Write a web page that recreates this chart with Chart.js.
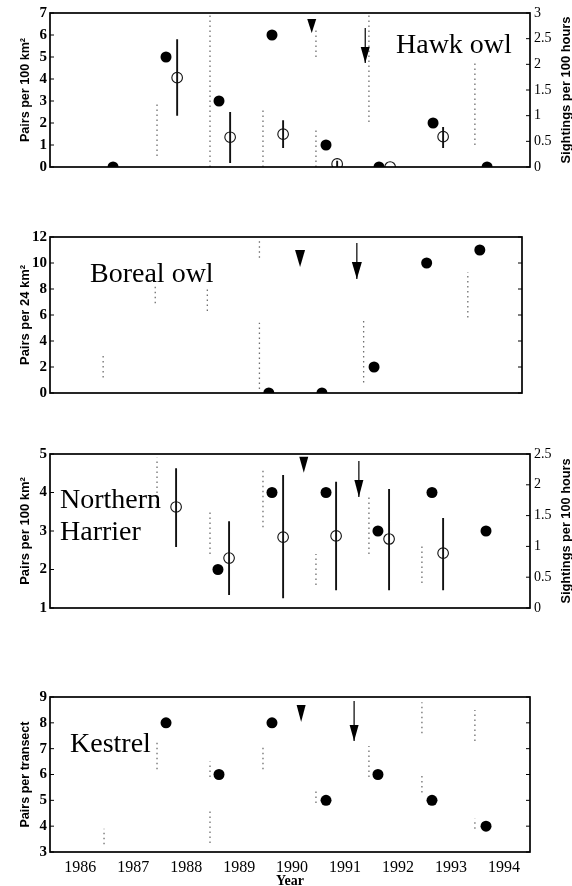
<!DOCTYPE html>
<html><head><meta charset="utf-8">
<script src="https://cdn.jsdelivr.net/npm/chart.js@4"></script>
<style>
html,body{margin:0;padding:0;background:#fff;}
#wrap{position:relative;width:572px;height:886px;overflow:hidden;background:#fff;}
canvas{position:absolute;left:0;top:0;}
</style></head><body>
<div id="wrap">
<canvas id="c1" width="572" height="886"></canvas>
<canvas id="c2" width="572" height="886"></canvas>
<canvas id="c3" width="572" height="886"></canvas>
<canvas id="c4" width="572" height="886"></canvas>
</div>
<script>
// ---------- DATA ----------
const yearTicks = [1986, 1987, 1988, 1989, 1990, 1991, 1992, 1993, 1994];

// Hawk owl
const hawkPairYear = [1986.62, 1987.62, 1988.62, 1989.62, 1990.64, 1991.64, 1992.66, 1993.68];
const hawkPairs = [0, 5, 3, 6, 1, 0, 2, 0];
const hawkSightYear = [1987.83, 1988.83, 1989.83, 1990.85, 1991.85, 1992.85];
const hawkSight = [1.74, 0.58, 0.64, 0.06, 0.0, 0.59];
const hawkSightLow = [1.0, 0.08, 0.37, 0.0, 0.0, 0.37];
const hawkSightHigh = [2.49, 1.07, 0.91, 0.12, 0.0, 0.78];
const hawkTriangle = [1990.37, 6.09];          // x, tip value
const hawkArrow = [1991.38, 6.32, 4.73];       // x, top, tip
const hawkDotted = [[1987.45, 0.5, 2.9], [1988.45, 0, 7], [1989.45, 0, 2.7], [1990.45, 0, 1.7], [1990.45, 5.0, 6.2], [1991.45, 2.05, 7], [1993.45, 1.0, 4.8]];

// Boreal owl
const borealYear = [1989.63, 1990.65, 1991.65, 1992.66, 1993.68];
const borealPairs = [0, 0, 2, 10, 11];
const borealTriangle = [1990.23, 9.69];
const borealArrow = [1991.32, 11.54, 8.77];
const borealDotted = [[1986.45, 1.2, 2.9], [1987.45, 6.9, 8.2], [1988.45, 6.3, 8.2], [1989.45, 0.3, 5.4], [1989.45, 10.4, 11.7], [1991.45, 0.8, 5.8], [1993.45, 5.8, 9.3]];

// Northern Harrier
const harrierPairYear = [1988.60, 1989.62, 1990.64, 1991.62, 1992.64, 1993.66];
const harrierPairs = [2, 4, 4, 3, 4, 3];
const harrierSightYear = [1987.81, 1988.81, 1989.83, 1990.83, 1991.83, 1992.85];
const harrierSight = [1.64, 0.81, 1.15, 1.17, 1.12, 0.89];
const harrierSightLow = [0.99, 0.21, 0.16, 0.29, 0.29, 0.29];
const harrierSightHigh = [2.27, 1.41, 2.16, 2.05, 1.93, 1.46];
const harrierTriangle = [1990.22, 4.51];
const harrierArrow = [1991.26, 4.82, 3.88];
const harrierDotted = [[1987.45, 3.6, 4.9], [1988.45, 2.4, 3.5], [1989.45, 3.1, 4.6], [1990.45, 1.6, 2.4], [1991.45, 2.4, 3.9], [1992.45, 1.65, 2.6]];

// Kestrel
const kestrelYear = [1987.62, 1988.62, 1989.62, 1990.64, 1991.62, 1992.64, 1993.66];
const kestrelPairs = [8, 6, 8, 5, 6, 5, 4];
const kestrelTriangle = [1990.17, 8.03];
const kestrelArrow = [1991.17, 8.85, 7.30];
const kestrelDotted = [[1986.45, 3.3, 3.9], [1987.45, 6.2, 7.3], [1988.45, 5.9, 6.5], [1988.45, 3.35, 4.7], [1989.45, 6.2, 7.1], [1990.45, 4.9, 5.4], [1991.45, 5.9, 7.1], [1992.45, 7.6, 8.8], [1992.45, 5.3, 6.0], [1993.45, 7.3, 8.5], [1993.45, 3.9, 4.3]];

// ---------- STYLE ----------
const SERIF = "'Liberation Serif','Times New Roman',serif";
const NARROW = "'Liberation Sans Narrow','Liberation Sans',Arial,sans-serif";
const X_MIN = 1985.43, X_MAX = 1994.49;

function pts(xs, ys) { return xs.map((x, i) => ({ x: x, y: ys[i] })); }
function segs(list) {
  const out = [];
  list.forEach(s => { out.push({ x: s[0], y: s[1] }, { x: s[0], y: s[2] }, { x: s[0], y: null }); });
  return out;
}
function errSegs(xs, lo, hi) { return segs(xs.map((x, i) => [x, lo[i], hi[i]])); }

function decor(cfg) {
  return {
    id: 'decor' + cfg.id,
    afterDatasetsDraw(chart) {
      const ctx = chart.ctx, a = chart.chartArea;
      const sx = chart.scales.x, sy = chart.scales.y, sy2 = chart.scales.y2;
      ctx.save();
      ctx.strokeStyle = '#000'; ctx.fillStyle = '#000';
      ctx.lineWidth = 1;
      const ln = (x1, y1, x2, y2) => { ctx.beginPath(); ctx.moveTo(x1, y1); ctx.lineTo(x2, y2); ctx.stroke(); };
      sy.ticks.forEach(t => {
        const py = sy.getPixelForValue(t.value);
        ln(a.left, py, a.left + 4, py);
        if (!sy2) ln(a.right - 4, py, a.right, py);
      });
      if (sy2) sy2.ticks.forEach(t => { const py = sy2.getPixelForValue(t.value); ln(a.right - 4, py, a.right, py); });
      ctx.lineWidth = 1.7;
      ctx.strokeRect(a.left, a.top, a.right - a.left, a.bottom - a.top);
      cfg.heads.forEach(h => {
        const px = sx.getPixelForValue(h.x), py = sy.getPixelForValue(h.tip);
        ctx.beginPath();
        ctx.moveTo(px - h.w / 2, py - h.h);
        ctx.lineTo(px + h.w / 2, py - h.h);
        ctx.lineTo(px, py);
        ctx.closePath(); ctx.fill();
      });
      ctx.restore();
    },
    afterDraw(chart) {
      const ctx = chart.ctx, a = chart.chartArea;
      ctx.save();
      ctx.fillStyle = '#000';
      cfg.labels.forEach(l => {
        ctx.font = l.font; ctx.textAlign = 'left'; ctx.textBaseline = 'alphabetic';
        ctx.fillText(l.text, l.x, l.y);
      });
      const cy = (a.top + a.bottom) / 2;
      cfg.titles.forEach(t => {
        ctx.save();
        ctx.translate(t.x, cy);
        ctx.rotate(-Math.PI / 2);
        ctx.font = "bold 13px " + NARROW;
        ctx.textAlign = 'center'; ctx.textBaseline = 'middle';
        ctx.fillText(t.text, 0, 0, t.w);
        ctx.restore();
      });
      if (cfg.year) {
        ctx.font = "bold 14px " + SERIF;
        ctx.textAlign = 'center'; ctx.textBaseline = 'alphabetic';
        ctx.fillText('Year', 290, 885);
      }
      ctx.restore();
    }
  };
}

function panel(p) {
  const datasets = [
    { data: pts(p.pairX, p.pairY), pointRadius: 5.5, pointHoverRadius: 5.5, backgroundColor: '#000', borderColor: '#000', borderWidth: 0, yAxisID: 'y', clip: 0 }
  ];
  if (p.sightX) {
    datasets.push({ data: pts(p.sightX, p.sightY), pointRadius: 5.3, pointHoverRadius: 5.3, backgroundColor: 'rgba(0,0,0,0)', borderColor: '#111', borderWidth: 1.1, yAxisID: 'y2', clip: 0 });
    datasets.push({ data: errSegs(p.sightX, p.sightLo, p.sightHi), showLine: true, spanGaps: false, pointRadius: 0, borderColor: '#111', borderWidth: 1.9, yAxisID: 'y2' });
  }
  datasets.push({ data: [{ x: p.arrow[0], y: p.arrow[1] }, { x: p.arrow[0], y: p.arrow[2] }], showLine: true, pointRadius: 0, borderColor: '#000', borderWidth: 1.2, yAxisID: 'y' });
  datasets.push({ data: segs(p.dotted), showLine: true, spanGaps: false, pointRadius: 0, borderColor: '#6e6e6e', borderWidth: 1.3, borderDash: [1.5, 3.5], yAxisID: 'y' });

  const scales = {
    x: {
      type: 'linear', min: X_MIN, max: X_MAX, display: !!p.showX,
      grid: { display: false, drawTicks: false }, border: { display: false },
      afterBuildTicks: s => { s.ticks = yearTicks.map(v => ({ value: v })); },
      ticks: { color: '#000', font: { family: SERIF, size: 16 }, padding: 6, autoSkip: false, maxRotation: 0, callback: v => String(v) },
      afterFit: s => { if (p.showX) s.height = 34; }
    },
    y: {
      position: 'left', min: p.yMin, max: p.yMax,
      grid: { display: false, drawTicks: false }, border: { display: false },
      ticks: { stepSize: p.yStep, color: '#000', font: { family: SERIF, size: 15, weight: 'bold' }, padding: 3, callback: v => String(v) },
      afterFit: s => { s.width = 50; }
    }
  };
  if (p.sightX) {
    scales.y2 = {
      position: 'right', min: 0, max: p.y2Max,
      grid: { display: false, drawTicks: false }, border: { display: false },
      ticks: { stepSize: 0.5, color: '#000', font: { family: SERIF, size: 14 }, padding: 4, callback: v => String(v) },
      afterFit: s => { s.width = 42; }
    };
  }
  const heads = [
    { x: p.tri[0], tip: p.tri[1], w: p.triW, h: p.triH },
    { x: p.arrow[0], tip: p.arrow[2], w: p.arrW, h: p.arrH }
  ];
  new Chart(document.getElementById(p.id), {
    type: 'scatter',
    data: { datasets: datasets },
    options: {
      responsive: false, animation: false, devicePixelRatio: 1,
      layout: { padding: p.pad },
      plugins: { legend: { display: false }, tooltip: { enabled: false } },
      events: [],
      scales: scales
    },
    plugins: [decor({ id: p.id, heads: heads, labels: p.labels, titles: p.titles, year: p.showX })]
  });
}

const LBL = "28px " + SERIF;

panel({
  id: 'c1', pad: { top: 13, bottom: 719, left: 0, right: 0 },
  yMin: 0, yMax: 7, yStep: 1, y2Max: 3,
  pairX: hawkPairYear, pairY: hawkPairs,
  sightX: hawkSightYear, sightY: hawkSight, sightLo: hawkSightLow, sightHi: hawkSightHigh,
  tri: hawkTriangle, arrow: hawkArrow, triW: 9, triH: 14, arrW: 9, arrH: 16,
  dotted: hawkDotted,
  labels: [{ text: 'Hawk owl', x: 396, y: 53, font: LBL }],
  titles: [{ text: 'Pairs per 100 km²', x: 25, w: 104 }, { text: 'Sightings per 100 hours', x: 566, w: 147 }]
});

panel({
  id: 'c2', pad: { top: 237, bottom: 493, left: 0, right: 50 },
  yMin: 0, yMax: 12, yStep: 2,
  pairX: borealYear, pairY: borealPairs,
  tri: borealTriangle, arrow: borealArrow, triW: 10, triH: 17, arrW: 10, arrH: 17,
  dotted: borealDotted,
  labels: [{ text: 'Boreal owl', x: 90, y: 282, font: LBL }],
  titles: [{ text: 'Pairs per 24 km²', x: 25, w: 100 }]
});

panel({
  id: 'c3', pad: { top: 454, bottom: 278, left: 0, right: 0 },
  yMin: 1, yMax: 5, yStep: 1, y2Max: 2.5,
  pairX: harrierPairYear, pairY: harrierPairs,
  sightX: harrierSightYear, sightY: harrierSight, sightLo: harrierSightLow, sightHi: harrierSightHigh,
  tri: harrierTriangle, arrow: harrierArrow, triW: 9, triH: 16, arrW: 9, arrH: 17,
  dotted: harrierDotted,
  labels: [{ text: 'Northern', x: 60, y: 508, font: LBL }, { text: 'Harrier', x: 60, y: 540, font: LBL }],
  titles: [{ text: 'Pairs per 100 km²', x: 25, w: 109 }, { text: 'Sightings per 100 hours', x: 566, w: 145 }]
});

panel({
  id: 'c4', pad: { top: 697, bottom: 0, left: 0, right: 42 },
  yMin: 3, yMax: 9, yStep: 1, showX: true,
  pairX: kestrelYear, pairY: kestrelPairs,
  tri: kestrelTriangle, arrow: kestrelArrow, triW: 9, triH: 17, arrW: 9, arrH: 16,
  dotted: kestrelDotted,
  labels: [{ text: 'Kestrel', x: 70, y: 752, font: LBL }],
  titles: [{ text: 'Pairs per transect', x: 25, w: 106 }]
});
</script>
</body></html>
